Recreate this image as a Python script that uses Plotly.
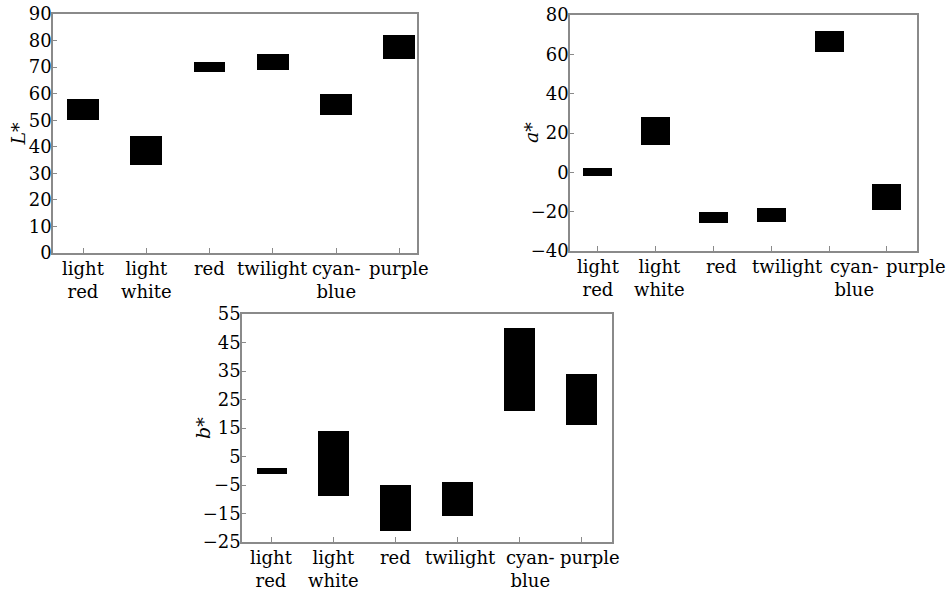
import plotly.graph_objects as go

categories = ["light<br>red", "light<br>white", "red", "twilight", "cyan-<br>blue", "purple"]

# L* ranges (low, high)
L_low = [50, 33, 68, 69, 52, 73]
L_high = [58, 44, 72, 75, 60, 82]
# a* ranges
a_low = [-2, 14, -26, -25, 61, -19]
a_high = [2, 28, -20, -18, 72, -6]
# b* ranges
b_low = [-1, -9, -21, -16, 21, 16]
b_high = [1, 14, -5, -4, 50, 34]

L_ticks = [0, 10, 20, 30, 40, 50, 60, 70, 80, 90]
a_ticks = [-40, -20, 0, 20, 40, 60, 80]
b_ticks = [-25, -15, -5, 5, 15, 25, 35, 45, 55]

W, H = 950, 595
FONT = "DejaVu Serif"
FRAME = "#8a8a8a"

fig = go.Figure()

panels = [
    dict(xa="x", ya="y", lo=L_low, hi=L_high, ticks=L_ticks, yr=[0, 90], xpx=[53, 417], ypx=[14, 253],
         xr=[-0.475, 5.28], title="<i>L</i>*", tx=17, lshift=[0, 0, 0, 0, 0, 0]),
    dict(xa="x2", ya="y2", lo=a_low, hi=a_high, ticks=a_ticks, yr=[-40, 80], xpx=[570, 917], ypx=[15, 251],
         xr=[-0.48, 5.52], title="<i>a</i>*", tx=531, lshift=[1, 4, 8, 16, 25, 29]),
    dict(xa="x3", ya="y3", lo=b_low, hi=b_high, ticks=b_ticks, yr=[-25, 55], xpx=[242, 612], ypx=[314, 542],
         xr=[-0.485, 5.5], title="<i>b</i>*", tx=203, lshift=[0, 0, 0, 3, 11, 9]),
]

for i, p in enumerate(panels):
    fig.add_trace(go.Bar(
        x=categories,
        y=[h - l for l, h in zip(p["lo"], p["hi"])],
        base=p["lo"],
        width=0.5,
        marker=dict(color="black", line=dict(width=0)),
        xaxis=p["xa"], yaxis=p["ya"],
        showlegend=False,
    ))
    sfx = "" if i == 0 else str(i + 1)
    fig.layout["xaxis" + sfx] = dict(
        domain=[p["xpx"][0] / W, p["xpx"][1] / W],
        anchor=p["ya"],
        range=p["xr"],
        automargin=False,
        showticklabels=False,
        showline=True, linecolor=FRAME, linewidth=1.5, mirror=True,
        ticks="inside", ticklen=5, tickcolor=FRAME,
        showgrid=False, zeroline=False,
        fixedrange=True,
    )
    fig.layout["yaxis" + sfx] = dict(
        domain=[1 - p["ypx"][1] / H, 1 - p["ypx"][0] / H],
        anchor=p["xa"],
        range=p["yr"],
        tickvals=p["ticks"],
        automargin=False,
        showline=True, linecolor=FRAME, linewidth=1.5, mirror=True,
        ticks="inside", ticklen=4, tickcolor=FRAME,
        ticklabelstandoff=-4,
        showgrid=False, zeroline=False,
        tickfont=dict(family=FONT, size=18, color="black"),
        fixedrange=True,
    )
    # category labels under the axis
    for cat, sh in zip(categories, p["lshift"]):
        fig.add_annotation(
            text=cat, xref=p["xa"], yref=p["ya"] + " domain",
            x=cat, y=0, xshift=sh, yshift=-3,
            xanchor="center", yanchor="top", align="center",
            showarrow=False,
            font=dict(family=FONT, size=18, color="black"),
        )
    fig.add_annotation(
        text=p["title"], xref="paper", yref="paper",
        x=p["tx"] / W, y=1 - (p["ypx"][0] + p["ypx"][1]) / 2 / H,
        textangle=-90, showarrow=False,
        font=dict(family=FONT, size=19, color="black"),
        xanchor="center", yanchor="middle",
    )

fig.update_layout(
    width=W, height=H,
    margin=dict(l=0, r=0, t=0, b=0),
    paper_bgcolor="white", plot_bgcolor="white",
    bargap=0,
)

fig.write_html("out.html", config={"displayModeBar": False},
               post_script="document.body.style.margin='0';")
